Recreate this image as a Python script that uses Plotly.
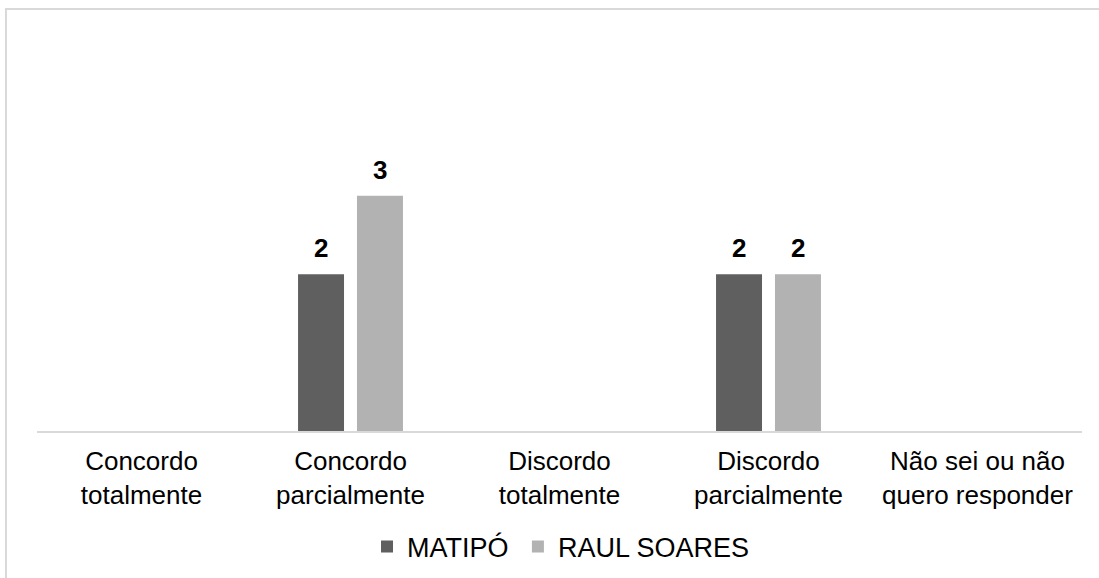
import plotly.graph_objects as go

categories = [
    "Concordo<br>totalmente",
    "Concordo<br>parcialmente",
    "Discordo<br>totalmente",
    "Discordo<br>parcialmente",
    "Não sei ou não<br>quero responder",
]
matipo = [0, 2, 0, 2, 0]
raul_soares = [0, 3, 0, 2, 0]

# name, values, colour, bar offset, legend id, legend x
series = [
    ("MATIPÓ", matipo, "#5f5f5f", -0.251, "legend", 0.3158),
    ("RAUL SOARES", raul_soares, "#b2b2b2", 0.031, "legend2", 0.4602),
]
bar_width = 0.22
font_family = "Liberation Sans, Arial, sans-serif"

fig = go.Figure()
annotations = []
legends = {}
for name, values, color, offset, legend_id, legend_x in series:
    fig.add_trace(go.Bar(
        name=name,
        x=list(range(len(categories))),
        y=values,
        width=bar_width,
        offset=offset,
        marker=dict(color=color, line=dict(width=0)),
        hoverinfo="skip",
        legend=legend_id,
    ))
    legends[legend_id] = dict(
        orientation="h", x=legend_x, xanchor="left", y=-0.296, yanchor="middle",
        font=dict(family=font_family, size=27, color="#000000"),
        itemwidth=30, bgcolor="rgba(0,0,0,0)",
    )
    for i, v in enumerate(values):
        if v:
            annotations.append(dict(
                x=i + offset + bar_width / 2, y=v, xref="x", yref="y",
                text=f"<b>{v}</b>", showarrow=False,
                yanchor="bottom", yshift=9,
                font=dict(family=font_family, size=26, color="#000000"),
            ))

# light frame around the chart area (runs off the right and bottom edges)
shapes = [dict(
    type="rect", xref="paper", yref="paper",
    x0=-0.0297, x1=1.2, y0=-0.6, y1=1.0765,
    line=dict(color="#d9d9d9", width=2), fillcolor="rgba(0,0,0,0)",
    layer="below",
)]

fig.update_layout(
    width=1099, height=578,
    margin=dict(l=37, r=17, t=39, b=147, autoexpand=False),
    paper_bgcolor="white", plot_bgcolor="white",
    barmode="overlay",
    font=dict(family=font_family, size=26, color="#000000"),
    showlegend=True,
    annotations=annotations,
    shapes=shapes,
    xaxis=dict(
        tickmode="array", tickvals=list(range(len(categories))), ticktext=categories,
        range=[-0.5, len(categories) - 0.5],
        showline=True, linecolor="#d9d9d9", linewidth=2,
        showgrid=False, zeroline=False, ticks="", ticklen=0,
        ticklabelstandoff=6, automargin=False,
        tickfont=dict(family=font_family, size=26, color="#000000"),
    ),
    yaxis=dict(
        range=[0, 5], visible=False, showgrid=False, zeroline=False,
    ),
    **legends,
)

fig.write_html("out.html")
